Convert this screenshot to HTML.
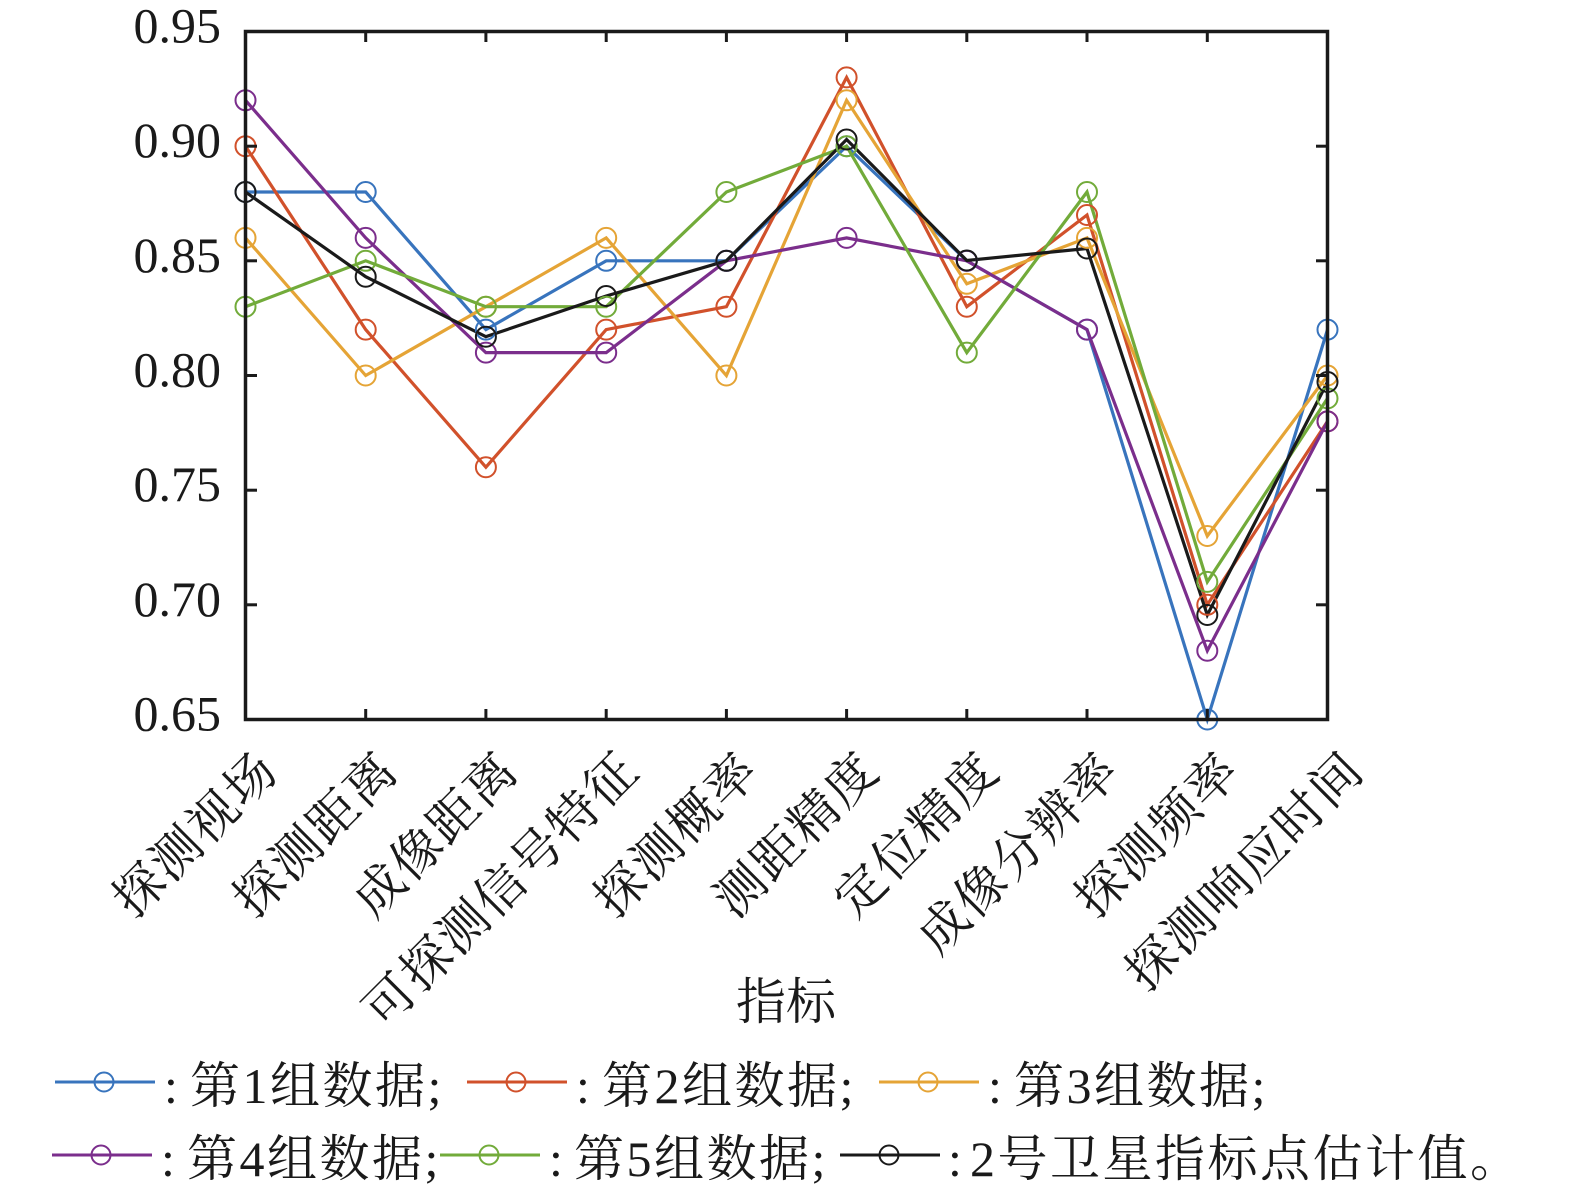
<!DOCTYPE html>
<html>
<head>
<meta charset="utf-8">
<style>
  html, body { margin:0; padding:0; background:#ffffff; }
  svg { display:block; }
  .tl { font-family: "Liberation Serif", serif; font-size:50px; fill:#1a1a1a; }
  .cj { font-family: "Liberation Serif", "Noto Serif CJK SC", serif; font-size:50px; fill:#1a1a1a; }
  .xl { letter-spacing:2px; }
  .lg { letter-spacing:2.5px; }
</style>
</head>
<body>
<svg width="1575" height="1186" viewBox="0 0 1575 1186" xmlns="http://www.w3.org/2000/svg">
  <rect x="0" y="0" width="1575" height="1186" fill="#ffffff"/>

  <!-- Series -->
  <g fill="none" stroke-width="3.2" stroke-linejoin="miter">
    <polyline stroke="#3874bd" points="245.5,192.0 365.7,192.0 485.9,329.6 606.2,260.8 726.4,260.8 846.6,146.2 966.8,260.8 1087.0,329.6 1207.3,719.5 1327.5,329.6"/>
    <polyline stroke="#d1512b" points="245.5,146.2 365.7,329.6 485.9,467.2 606.2,329.6 726.4,306.7 846.6,77.4 966.8,306.7 1087.0,215.0 1207.3,604.8 1327.5,421.4"/>
    <polyline stroke="#e5a436" points="245.5,237.9 365.7,375.5 485.9,306.7 606.2,237.9 726.4,375.5 846.6,100.3 966.8,283.8 1087.0,237.9 1207.3,536.0 1327.5,375.5"/>
    <polyline stroke="#7b2e8c" points="245.5,100.3 365.7,237.9 485.9,352.6 606.2,352.6 726.4,260.8 846.6,237.9 966.8,260.8 1087.0,329.6 1207.3,650.7 1327.5,421.4"/>
    <polyline stroke="#72ab3a" points="245.5,306.7 365.7,260.8 485.9,306.7 606.2,306.7 726.4,192.0 846.6,146.2 966.8,352.6 1087.0,192.0 1207.3,581.9 1327.5,398.4"/>
    <polyline stroke="#1a1a1a" points="245.5,192.0 365.7,276.7 485.9,336.7 606.2,296.0 726.4,260.8 846.6,139.5 966.8,260.5 1087.0,248.5 1207.3,615.0 1327.5,382.0"/>
  </g>

  <!-- Markers -->
  <g fill="none" stroke-width="2">
    <g stroke="#3874bd">
      <circle cx="245.5" cy="192.0" r="10"/><circle cx="365.7" cy="192.0" r="10"/><circle cx="485.9" cy="329.6" r="10"/><circle cx="606.2" cy="260.8" r="10"/><circle cx="726.4" cy="260.8" r="10"/><circle cx="846.6" cy="146.2" r="10"/><circle cx="966.8" cy="260.8" r="10"/><circle cx="1087.0" cy="329.6" r="10"/><circle cx="1207.3" cy="719.5" r="10"/><circle cx="1327.5" cy="329.6" r="10"/>
    </g>
    <g stroke="#d1512b">
      <circle cx="245.5" cy="146.2" r="10"/><circle cx="365.7" cy="329.6" r="10"/><circle cx="485.9" cy="467.2" r="10"/><circle cx="606.2" cy="329.6" r="10"/><circle cx="726.4" cy="306.7" r="10"/><circle cx="846.6" cy="77.4" r="10"/><circle cx="966.8" cy="306.7" r="10"/><circle cx="1087.0" cy="215.0" r="10"/><circle cx="1207.3" cy="604.8" r="10"/><circle cx="1327.5" cy="421.4" r="10"/>
    </g>
    <g stroke="#e5a436">
      <circle cx="245.5" cy="237.9" r="10"/><circle cx="365.7" cy="375.5" r="10"/><circle cx="485.9" cy="306.7" r="10"/><circle cx="606.2" cy="237.9" r="10"/><circle cx="726.4" cy="375.5" r="10"/><circle cx="846.6" cy="100.3" r="10"/><circle cx="966.8" cy="283.8" r="10"/><circle cx="1087.0" cy="237.9" r="10"/><circle cx="1207.3" cy="536.0" r="10"/><circle cx="1327.5" cy="375.5" r="10"/>
    </g>
    <g stroke="#7b2e8c">
      <circle cx="245.5" cy="100.3" r="10"/><circle cx="365.7" cy="237.9" r="10"/><circle cx="485.9" cy="352.6" r="10"/><circle cx="606.2" cy="352.6" r="10"/><circle cx="726.4" cy="260.8" r="10"/><circle cx="846.6" cy="237.9" r="10"/><circle cx="966.8" cy="260.8" r="10"/><circle cx="1087.0" cy="329.6" r="10"/><circle cx="1207.3" cy="650.7" r="10"/><circle cx="1327.5" cy="421.4" r="10"/>
    </g>
    <g stroke="#72ab3a">
      <circle cx="245.5" cy="306.7" r="10"/><circle cx="365.7" cy="260.8" r="10"/><circle cx="485.9" cy="306.7" r="10"/><circle cx="606.2" cy="306.7" r="10"/><circle cx="726.4" cy="192.0" r="10"/><circle cx="846.6" cy="146.2" r="10"/><circle cx="966.8" cy="352.6" r="10"/><circle cx="1087.0" cy="192.0" r="10"/><circle cx="1207.3" cy="581.9" r="10"/><circle cx="1327.5" cy="398.4" r="10"/>
    </g>
    <g stroke="#1a1a1a">
      <circle cx="245.5" cy="192.0" r="10"/><circle cx="365.7" cy="276.7" r="10"/><circle cx="485.9" cy="336.7" r="10"/><circle cx="606.2" cy="296.0" r="10"/><circle cx="726.4" cy="260.8" r="10"/><circle cx="846.6" cy="139.5" r="10"/><circle cx="966.8" cy="260.5" r="10"/><circle cx="1087.0" cy="248.5" r="10"/><circle cx="1207.3" cy="615.0" r="10"/><circle cx="1327.5" cy="382.0" r="10"/>
    </g>
  </g>

  <!-- Axes box -->
  <rect x="245.5" y="31.5" width="1082" height="688" fill="none" stroke="#1a1a1a" stroke-width="3.5"/>

  <!-- Ticks -->
  <g stroke="#1a1a1a" stroke-width="3">
    <line x1="245.5" y1="146.2" x2="257" y2="146.2"/>
    <line x1="245.5" y1="260.8" x2="257" y2="260.8"/>
    <line x1="245.5" y1="375.5" x2="257" y2="375.5"/>
    <line x1="245.5" y1="490.2" x2="257" y2="490.2"/>
    <line x1="245.5" y1="604.8" x2="257" y2="604.8"/>
    <line x1="1327.5" y1="146.2" x2="1316" y2="146.2"/>
    <line x1="1327.5" y1="260.8" x2="1316" y2="260.8"/>
    <line x1="1327.5" y1="375.5" x2="1316" y2="375.5"/>
    <line x1="1327.5" y1="490.2" x2="1316" y2="490.2"/>
    <line x1="1327.5" y1="604.8" x2="1316" y2="604.8"/>
    <line x1="365.7" y1="719.5" x2="365.7" y2="709"/>
    <line x1="485.9" y1="719.5" x2="485.9" y2="709"/>
    <line x1="606.2" y1="719.5" x2="606.2" y2="709"/>
    <line x1="726.4" y1="719.5" x2="726.4" y2="709"/>
    <line x1="846.6" y1="719.5" x2="846.6" y2="709"/>
    <line x1="966.8" y1="719.5" x2="966.8" y2="709"/>
    <line x1="1087.0" y1="719.5" x2="1087.0" y2="709"/>
    <line x1="1207.3" y1="719.5" x2="1207.3" y2="709"/>
    <line x1="365.7" y1="31.5" x2="365.7" y2="42"/>
    <line x1="485.9" y1="31.5" x2="485.9" y2="42"/>
    <line x1="606.2" y1="31.5" x2="606.2" y2="42"/>
    <line x1="726.4" y1="31.5" x2="726.4" y2="42"/>
    <line x1="846.6" y1="31.5" x2="846.6" y2="42"/>
    <line x1="966.8" y1="31.5" x2="966.8" y2="42"/>
    <line x1="1087.0" y1="31.5" x2="1087.0" y2="42"/>
    <line x1="1207.3" y1="31.5" x2="1207.3" y2="42"/>
  </g>

  <!-- Y tick labels -->
  <g class="tl" text-anchor="end">
    <text x="221" y="42.5">0.95</text>
    <text x="221" y="157.2">0.90</text>
    <text x="221" y="271.8">0.85</text>
    <text x="221" y="386.5">0.80</text>
    <text x="221" y="501.2">0.75</text>
    <text x="221" y="615.8">0.70</text>
    <text x="221" y="730.5">0.65</text>
  </g>

  <!-- X tick labels (rotated 45°) -->
  <g class="cj xl" text-anchor="end">
    <text transform="translate(281,773) rotate(-45)">探测视场</text>
    <text transform="translate(401.2,773) rotate(-45)">探测距离</text>
    <text transform="translate(521.4,773) rotate(-45)">成像距离</text>
    <text transform="translate(641.7,773) rotate(-45)">可探测信号特征</text>
    <text transform="translate(761.9,773) rotate(-45)">探测概率</text>
    <text transform="translate(882.1,773) rotate(-45)">测距精度</text>
    <text transform="translate(1002.3,773) rotate(-45)">定位精度</text>
    <text transform="translate(1122.5,773) rotate(-45)">成像分辨率</text>
    <text transform="translate(1242.8,773) rotate(-45)">探测频率</text>
    <text transform="translate(1367,773) rotate(-45)">探测响应时间</text>
  </g>

  <!-- X axis title -->
  <text class="cj" x="786" y="1019" text-anchor="middle">指标</text>

  <!-- Legend row 1 -->
  <g stroke-width="3" fill="none">
    <line x1="55" y1="1082" x2="155" y2="1082" stroke="#3874bd"/>
    <circle cx="104" cy="1082" r="9.5" stroke="#3874bd" stroke-width="2"/>
    <line x1="467" y1="1082" x2="567" y2="1082" stroke="#d1512b"/>
    <circle cx="516" cy="1082" r="9.5" stroke="#d1512b" stroke-width="2"/>
    <line x1="879" y1="1082" x2="979" y2="1082" stroke="#e5a436"/>
    <circle cx="928" cy="1082" r="9.5" stroke="#e5a436" stroke-width="2"/>
  </g>
  <g class="cj">
    <text x="164" y="1103">:</text><text class="lg" x="190" y="1103">第1组数据;</text>
    <text x="576" y="1103">:</text><text class="lg" x="602" y="1103">第2组数据;</text>
    <text x="988" y="1103">:</text><text class="lg" x="1014" y="1103">第3组数据;</text>
  </g>

  <!-- Legend row 2 -->
  <g stroke-width="3" fill="none">
    <line x1="52" y1="1155" x2="152" y2="1155" stroke="#7b2e8c"/>
    <circle cx="101" cy="1155" r="9.5" stroke="#7b2e8c" stroke-width="2"/>
    <line x1="440" y1="1155" x2="540" y2="1155" stroke="#72ab3a"/>
    <circle cx="489" cy="1155" r="9.5" stroke="#72ab3a" stroke-width="2"/>
    <line x1="840" y1="1155" x2="940" y2="1155" stroke="#1a1a1a"/>
    <circle cx="889" cy="1155" r="9.5" stroke="#1a1a1a" stroke-width="2"/>
  </g>
  <g class="cj">
    <text x="161" y="1176">:</text><text class="lg" x="187" y="1176">第4组数据;</text>
    <text x="549" y="1176">:</text><text class="lg" x="574" y="1176">第5组数据;</text>
    <text x="948" y="1176">:</text><text class="lg" x="970" y="1176">2号卫星指标点估计值。</text>
  </g>
</svg>
</body>
</html>
